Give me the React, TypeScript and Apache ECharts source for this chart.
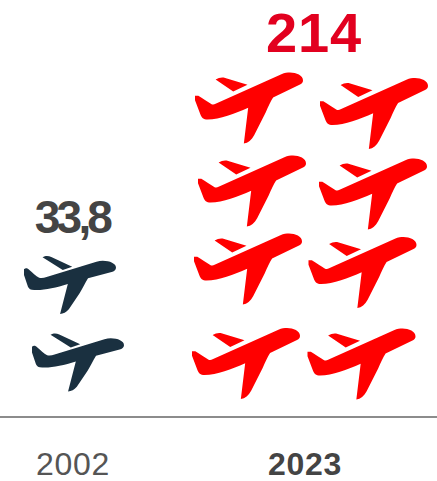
import React, { useEffect, useRef } from "react";
import * as echarts from "echarts";

const years = ["2002", "2023"];
const yearCentres = [73, 305];
const totals = ["33,8", "214"];
const totalPoints = [[72, 217], [314, 32]];
const darkPlanes = [[70, 285], [78, 362.5]];
const redPlanes = [
  [249, 108], [374, 113.5], [252, 191], [373, 194],
  [248, 269], [362.5, 272.5], [246, 363.5], [361.5, 364],
];

const redPath =
  "path://M30 287L40 287C55 296 68 306 80 312C84 314 88 313 92 311L290 222C300 218 308 217 316 217C335 217 355 226 355 240C355 246 352 250 346 253L265 292C257 305 250 320 243 336L208 405C200 420 190 428 177 430L190 323C150 340 105 358 68 358C55 358 50 352 46 342L30 300Z" +
  "M92 238C100 233 108 231 116 232L188 254L145 274Z";
const darkPath =
  "path://M75 268C80 263 86 265 91 270C100 278 110 288 120 293C126 295 134 294 142 291L290 245C318 238 348 248 348 263C348 270 342 274 335 276L265 295C256 310 248 326 240 340L208 388C200 397 192 402 182 402L205 312C165 325 125 333 98 329C90 328 87 322 85 315L75 285Z" +
  "M130 232C140 226 148 228 156 231L218 260L190 270Z";

export default function App() {
  const ref = useRef<HTMLDivElement>(null);
  useEffect(() => {
    const chart = echarts.init(ref.current!, undefined, { renderer: "svg" });
    chart.setOption({
      animation: false,
      backgroundColor: "#ffffff",
      grid: { left: 0, right: 0, top: 0, bottom: 64 },
      xAxis: {
        type: "value",
        min: 0,
        max: 437,
        splitLine: { show: false },
        axisLine: { show: true, onZero: false, lineStyle: { color: "#666666", width: 1.5 } },
        axisTick: { show: false },
        axisLabel: {
          customValues: yearCentres,
          margin: 31,
          hideOverlap: false,
          showMinLabel: true,
          showMaxLabel: true,
          formatter: (v: number) => {
            const i = yearCentres.indexOf(v);
            return i === 1 ? `{b|${years[i]}}` : `{r|${years[i]}}`;
          },
          rich: {
            r: { fontFamily: "Liberation Sans", fontSize: 32, color: "#555555" },
            b: { fontFamily: "Liberation Sans", fontSize: 32, fontWeight: "bold", color: "#444444" },
          },
        },
      },
      yAxis: { type: "value", min: 0, max: 417, inverse: true, show: false },
      series: [
        {
          type: "scatter",
          silent: true,
          symbol: darkPath,
          symbolSize: [92, 58],
          itemStyle: { color: "#1a3040", opacity: 1 },
          data: darkPlanes,
        },
        {
          type: "scatter",
          silent: true,
          symbol: redPath,
          symbolSize: [108, 71],
          itemStyle: { color: "#ff0000", opacity: 1 },
          data: redPlanes,
        },
        {
          type: "scatter",
          silent: true,
          symbolSize: 0,
          itemStyle: { opacity: 1 },
          data: totalPoints.map((p, i) => ({
            value: p,
            label: {
              show: true,
              position: "inside",
              formatter: totals[i],
              fontFamily: "Liberation Sans",
              fontWeight: "bold",
              fontSize: i === 0 ? 46 : 56,
              color: i === 0 ? "#444444" : "#e2001f",
              opacity: 1,
            },
          })),
        },
      ],
    });
    const spacing: Record<string, string> = {
      "33,8": "-3.8px",
      "214": "0.8px",
      "2002": "0.7px",
      "2023": "0.7px",
    };
    ref.current!.querySelectorAll("text").forEach((t) => {
      const s = spacing[(t.textContent || "").trim()];
      if (s) t.style.letterSpacing = s;
    });
    return () => chart.dispose();
  }, []);
  return <div ref={ref} style={{ position: "absolute", left: 0, top: 0, width: 437, height: 481 }} />;
}
